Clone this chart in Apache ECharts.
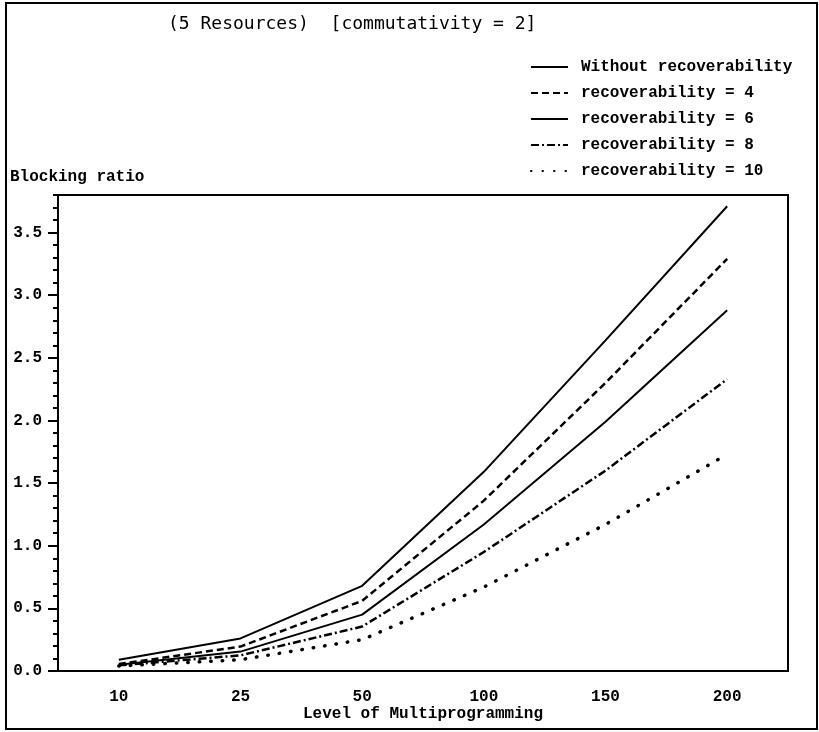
<!DOCTYPE html>
<html>
<head>
<meta charset="utf-8">
<script src="https://cdn.jsdelivr.net/npm/echarts@6/dist/echarts.min.js"></script>
<style>
  html, body { margin: 0; padding: 0; background: #fff; }
  #chart { width: 819px; height: 732px; }
</style>
</head>
<body>
<div id="chart"></div>
<script>
var levels = ['10', '25', '50', '100', '150', '200'];
var noRecovery = [0.09, 0.26, 0.68, 1.59, 2.64, 3.71];
var recovery4 = [0.055, 0.195, 0.56, 1.36, 2.30, 3.29];
var recovery6 = [0.05, 0.155, 0.45, 1.17, 1.99, 2.88];
var recovery8 = [0.045, 0.125, 0.355, 0.95, 1.60, 2.33];
var recovery10 = [0.04, 0.09, 0.25, 0.67, 1.17, 1.73];

var labelFont = { color: '#000', fontFamily: 'Liberation Mono', fontWeight: 'bold', fontSize: 16 };

function line(name, data, type, width, cap) {
    return {
        name: name,
        type: 'line',
        data: data,
        symbol: 'none',
        yAxisIndex: 0,
        lineStyle: { color: '#000', width: width, type: type, cap: cap || 'butt' },
        itemStyle: { color: '#000' }
    };
}

var myChart = echarts.init(document.getElementById('chart'));
var option = {
    animation: false,
    backgroundColor: '#fff',
    title: {
        text: '(5 Resources)  [commutativity = 2]',
        left: 163,
        top: 10,
        textStyle: { color: '#000', fontFamily: 'DejaVu Sans Mono', fontWeight: 'normal', fontSize: 18 }
    },
    legend: {
        orient: 'vertical',
        left: 530,
        top: 59,
        padding: 0,
        itemWidth: 37,
        itemHeight: 14,
        itemGap: 10,
        itemStyle: { opacity: 0 },
        textStyle: { color: '#000', fontFamily: 'Liberation Mono', fontWeight: 'bold', fontSize: 16, padding: [0, 0, 0, 8] },
        data: ['Without recoverability', 'recoverability = 4', 'recoverability = 6', 'recoverability = 8', 'recoverability = 10']
    },
    graphic: [
        { type: 'rect', shape: { x: 6, y: 3, width: 811, height: 726 }, style: { fill: 'none', stroke: '#000', lineWidth: 2 } },
        { type: 'text', left: 10, top: 169, style: { text: 'Blocking ratio', fill: '#000', font: 'bold 16px "Liberation Mono"' } }
    ],
    grid: {
        left: 58, right: 31, top: 195, bottom: 61,
        show: true, borderColor: '#000', borderWidth: 2, backgroundColor: 'transparent'
    },
    xAxis: {
        type: 'category',
        data: levels,
        boundaryGap: true,
        name: 'Level of Multiprogramming',
        nameLocation: 'middle',
        nameGap: 35,
        nameMoveOverlap: false,
        nameTextStyle: labelFont,
        axisLine: { lineStyle: { color: '#000', width: 2 } },
        axisTick: { alignWithLabel: true, length: 8, lineStyle: { color: '#000', width: 2 } },
        axisLabel: Object.assign({ margin: 18 }, labelFont),
        splitLine: { show: false }
    },
    yAxis: [
        {
            type: 'value', position: 'left', min: 0, max: 3.8, interval: 0.5,
            axisLine: { show: true, lineStyle: { color: '#000', width: 2 } },
            axisTick: { show: true, length: 10, lineStyle: { color: '#000', width: 2 } },
            axisLabel: Object.assign({
                margin: 16, showMaxLabel: false,
                formatter: function (v) { return v.toFixed(1); }
            }, labelFont),
            splitLine: { show: false }
        },
        {
            type: 'value', position: 'left', min: 0, max: 3.8, interval: 0.1,
            axisLine: { show: false },
            axisTick: { show: true, length: 5, lineStyle: { color: '#000', width: 2 } },
            axisLabel: { show: false },
            splitLine: { show: false }
        }
    ],
    series: [
        line('Without recoverability', noRecovery, 'solid', 2),
        line('recoverability = 4', recovery4, [7, 4], 2.5),
        line('recoverability = 6', recovery6, 'solid', 2),
        line('recoverability = 8', recovery8, [8, 3, 2, 3], 2.5),
        line('recoverability = 10', recovery10, [0.5, 11], 3.5, 'round')
    ]
};
myChart.setOption(option);
window.addEventListener('resize', function () {
    myChart.resize();
});
</script>
</body>
</html>
